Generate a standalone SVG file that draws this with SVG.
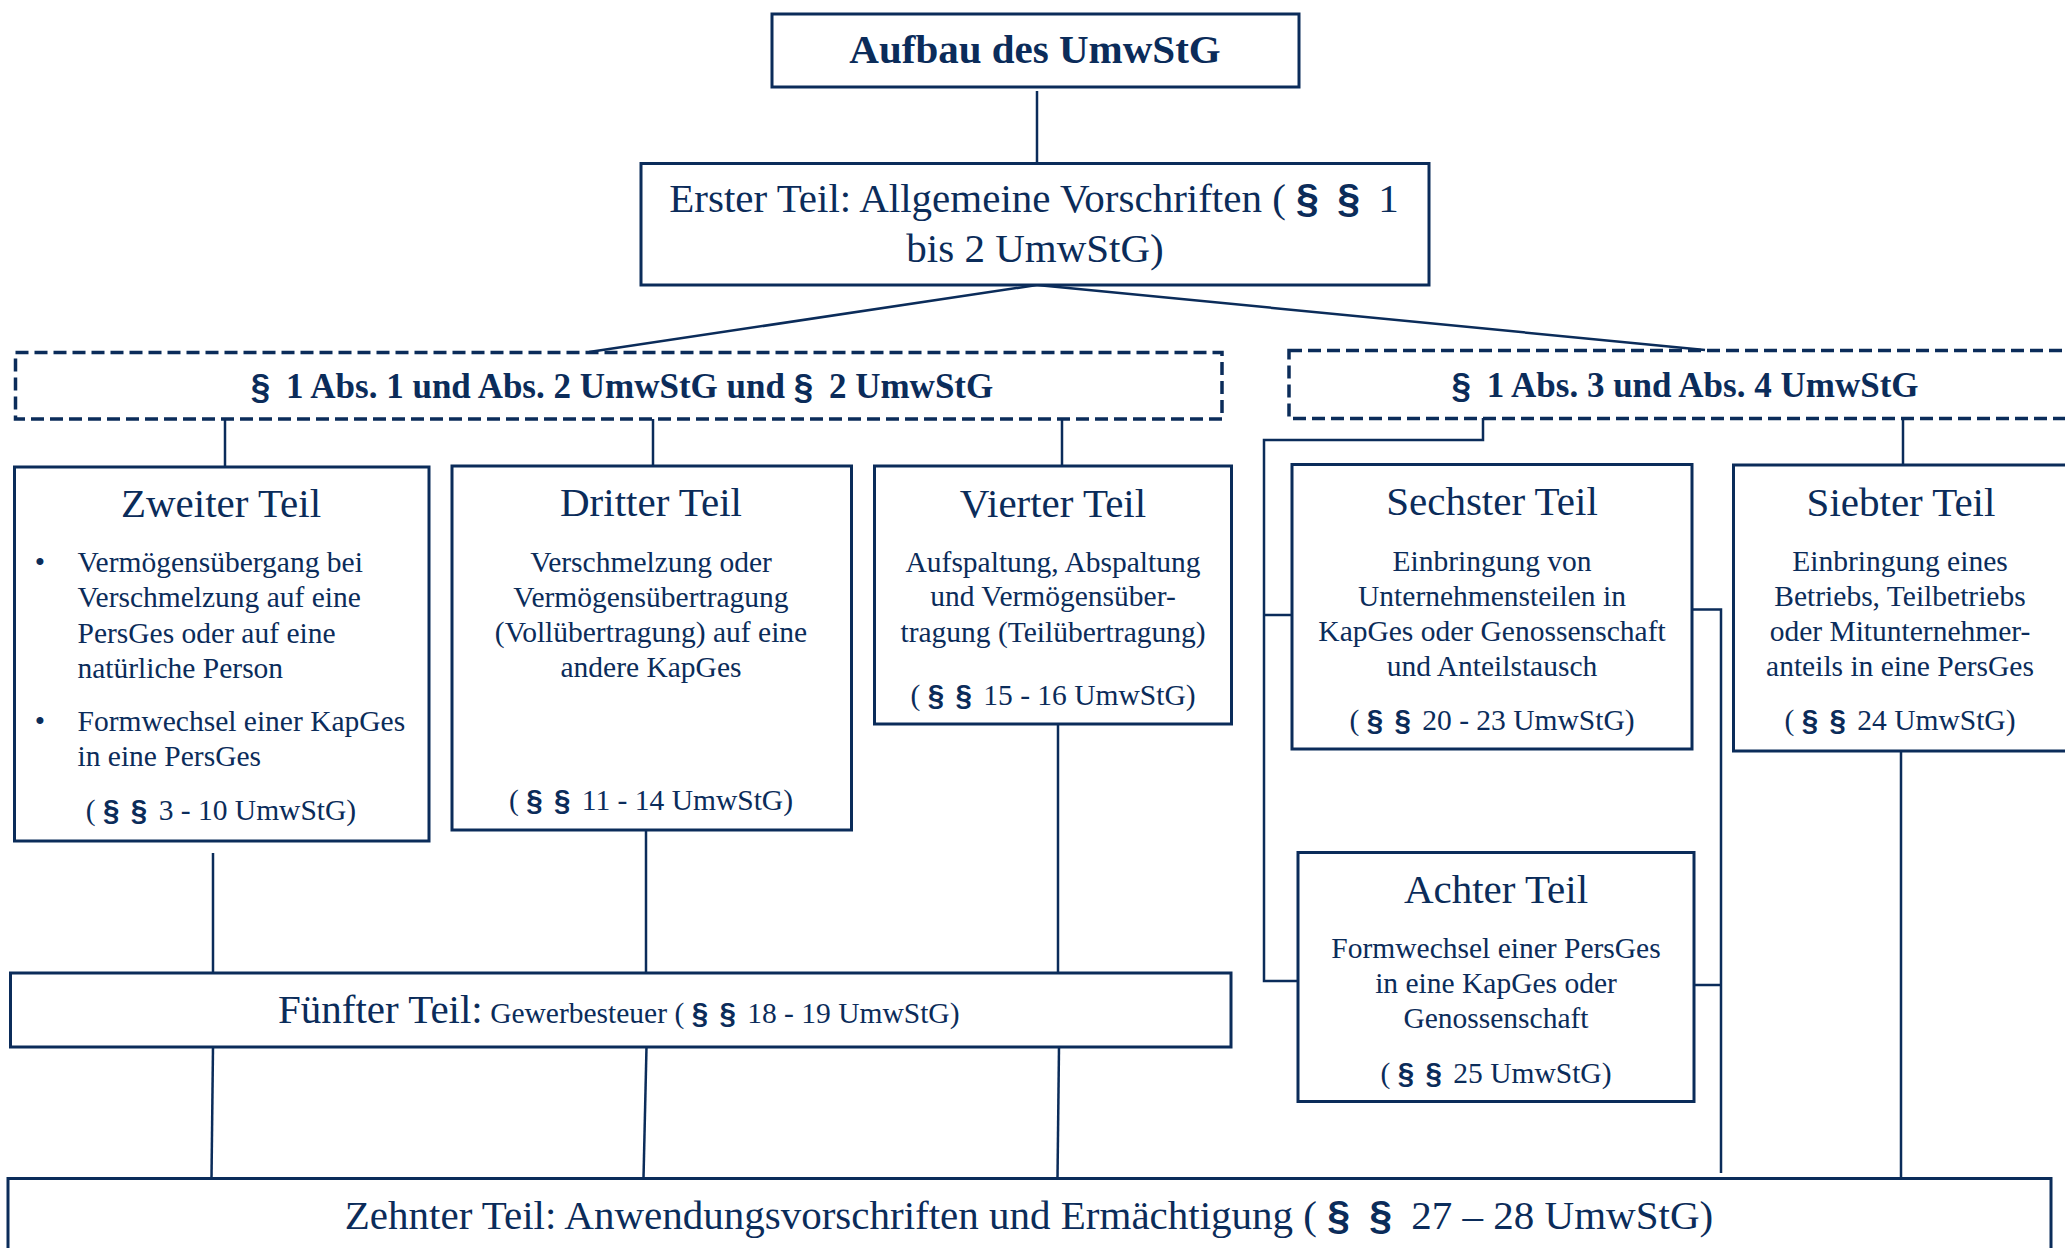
<svg xmlns="http://www.w3.org/2000/svg" width="2065" height="1248" viewBox="0 0 2065 1248">
<style>
text{font-family:"Liberation Serif","Times New Roman",serif;fill:#0b2c5a}
.box{fill:#fff;stroke:#0b2c5a;stroke-width:3}
.dash{fill:none;stroke:#0b2c5a;stroke-width:3.5;stroke-dasharray:13 6}
.con{fill:none;stroke:#0b2c5a;stroke-width:2.5}
.t40{font-size:41px}
.t29{font-size:29.5px}
.b{font-weight:bold}
.mid{text-anchor:middle}
.s{font-family:"Liberation Sans",Arial,sans-serif;font-weight:bold}
</style>
<rect width="2065" height="1248" fill="#fff"/>
<g id="connectors">
<line class="con" x1="1037" y1="91" x2="1037" y2="163"/>
<line class="con" x1="1037" y1="285" x2="589" y2="352"/>
<line class="con" x1="1037" y1="285" x2="1705" y2="350"/>
<line class="con" x1="225" y1="419" x2="225" y2="467"/>
<line class="con" x1="653" y1="419" x2="653" y2="465"/>
<line class="con" x1="1062" y1="419" x2="1062" y2="465"/>
<line class="con" x1="213" y1="853" x2="213" y2="973"/>
<line class="con" x1="646" y1="830" x2="646" y2="973"/>
<line class="con" x1="1058" y1="724" x2="1058" y2="973"/>
<line class="con" x1="213" y1="1047" x2="211.5" y2="1178"/>
<line class="con" x1="646.5" y1="1047" x2="643.5" y2="1178"/>
<line class="con" x1="1059" y1="1047" x2="1057.5" y2="1178"/>
<path class="con" d="M1483 418 V440 H1264 V981 H1298"/>
<line class="con" x1="1264" y1="615" x2="1292" y2="615"/>
<path class="con" d="M1692 609.5 H1721 V1173"/>
<line class="con" x1="1694" y1="985" x2="1721" y2="985"/>
<line class="con" x1="1903" y1="418" x2="1903" y2="465"/>
<line class="con" x1="1901" y1="751" x2="1901" y2="1178"/>
</g>
<g id="title">
<rect class="box" x="772" y="14" width="527" height="73"/>
<text class="b mid" font-size="41" x="1035" y="63">Aufbau des UmwStG</text>
</g>
<g id="erster">
<rect class="box" x="641" y="163.5" width="788" height="121.5"/>
<text class="t40 mid" x="1034" y="212">Erster Teil: Allgemeine Vorschriften ( <tspan class="s">§</tspan> <tspan class="s" dx="8">§</tspan> <tspan dx="8">1</tspan></text>
<text class="t40 mid" x="1035" y="262">bis 2 UmwStG)</text>
</g>
<g id="gruppe1">
<rect class="dash" x="15.5" y="352.5" width="1206.5" height="66.5"/>
<text class="b mid" font-size="35" x="622" y="398"><tspan class="s">§</tspan> <tspan dx="7">1 Abs. 1 und Abs. 2 UmwStG und </tspan><tspan class="s">§</tspan> <tspan dx="7">2 UmwStG</tspan></text>
</g>
<g id="gruppe2">
<rect class="dash" x="1289" y="350.5" width="820" height="68"/>
<text class="b mid" font-size="35" x="1685" y="397"><tspan class="s">§</tspan> <tspan dx="7">1 Abs. 3 und Abs. 4 UmwStG</tspan></text>
</g>
<g id="zweiter">
<rect class="box" x="14.5" y="467" width="414.5" height="374"/>
<text class="t40 mid" x="221" y="517">Zweiter Teil</text>
<text class="t29 mid" x="40" y="572">•</text>
<text class="t29" x="77.5" y="572">Vermögensübergang bei</text>
<text class="t29" x="77.5" y="607">Verschmelzung auf eine</text>
<text class="t29" x="77.5" y="643">PersGes oder auf eine</text>
<text class="t29" x="77.5" y="677.5">natürliche Person</text>
<text class="t29 mid" x="40" y="731">•</text>
<text class="t29" x="77.5" y="731">Formwechsel einer KapGes</text>
<text class="t29" x="77.5" y="766">in eine PersGes</text>
<text class="t29 mid" x="221" y="820">( <tspan class="s">§</tspan> <tspan class="s" dx="4">§</tspan> <tspan dx="4">3 - 10 UmwStG)</tspan></text>
</g>
<g id="dritter">
<rect class="box" x="452" y="466" width="399.5" height="364"/>
<text class="t40 mid" x="651" y="516">Dritter Teil</text>
<text class="t29 mid" x="651" y="572">Verschmelzung oder</text>
<text class="t29 mid" x="651" y="607">Vermögensübertragung</text>
<text class="t29 mid" x="651" y="642">(Vollübertragung) auf eine</text>
<text class="t29 mid" x="651" y="677">andere KapGes</text>
<text class="t29 mid" x="651" y="810">( <tspan class="s">§</tspan> <tspan class="s" dx="4">§</tspan> <tspan dx="4">11 - 14 UmwStG)</tspan></text>
</g>
<g id="vierter">
<rect class="box" x="874.5" y="466" width="357" height="258"/>
<text class="t40 mid" x="1053" y="517">Vierter Teil</text>
<text class="t29 mid" x="1053" y="572">Aufspaltung, Abspaltung</text>
<text class="t29 mid" x="1053" y="606">und Vermögensüber-</text>
<text class="t29 mid" x="1053" y="642">tragung (Teilübertragung)</text>
<text class="t29 mid" x="1053" y="705">( <tspan class="s">§</tspan> <tspan class="s" dx="4">§</tspan> <tspan dx="4">15 - 16 UmwStG)</tspan></text>
</g>
<g id="fuenfter">
<rect class="box" x="10.5" y="973" width="1220.5" height="74"/>
<text x="278" y="1023"><tspan class="t40">Fünfter Teil:</tspan><tspan class="t29"> Gewerbesteuer ( <tspan class="s">§</tspan> <tspan class="s" dx="4">§</tspan> <tspan dx="4">18 - 19 UmwStG)</tspan></tspan></text>
</g>
<g id="sechster">
<rect class="box" x="1292" y="464.5" width="400" height="284.5"/>
<text class="t40 mid" x="1492" y="515">Sechster Teil</text>
<text class="t29 mid" x="1492" y="571">Einbringung von</text>
<text class="t29 mid" x="1492" y="606">Unternehmensteilen in</text>
<text class="t29 mid" x="1492" y="641">KapGes oder Genossenschaft</text>
<text class="t29 mid" x="1492" y="676">und Anteilstausch</text>
<text class="t29 mid" x="1492" y="730">( <tspan class="s">§</tspan> <tspan class="s" dx="4">§</tspan> <tspan dx="4">20 - 23 UmwStG)</tspan></text>
</g>
<g id="siebter">
<rect class="box" x="1733.5" y="465" width="360" height="286"/>
<text class="t40 mid" x="1901" y="516">Siebter Teil</text>
<text class="t29 mid" x="1900" y="571">Einbringung eines</text>
<text class="t29 mid" x="1900" y="606">Betriebs, Teilbetriebs</text>
<text class="t29 mid" x="1900" y="641">oder Mitunternehmer-</text>
<text class="t29 mid" x="1900" y="676">anteils in eine PersGes</text>
<text class="t29 mid" x="1900" y="730">( <tspan class="s">§</tspan> <tspan class="s" dx="4">§</tspan> <tspan dx="4">24 UmwStG)</tspan></text>
</g>
<g id="achter">
<rect class="box" x="1298" y="852.5" width="396" height="249"/>
<text class="t40 mid" x="1496" y="903">Achter Teil</text>
<text class="t29 mid" x="1496" y="958">Formwechsel einer PersGes</text>
<text class="t29 mid" x="1496" y="993">in eine KapGes oder</text>
<text class="t29 mid" x="1496" y="1028">Genossenschaft</text>
<text class="t29 mid" x="1496" y="1083">( <tspan class="s">§</tspan> <tspan class="s" dx="4">§</tspan> <tspan dx="4">25 UmwStG)</tspan></text>
</g>
<g id="zehnter">
<rect class="box" x="8" y="1178.5" width="2043" height="100"/>
<text class="t40 mid" x="1029" y="1229">Zehnter Teil: Anwendungsvorschriften und Ermächtigung ( <tspan class="s">§</tspan> <tspan class="s" dx="9">§</tspan> <tspan dx="9">27 – 28 UmwStG)</tspan></text>
</g>
</svg>
